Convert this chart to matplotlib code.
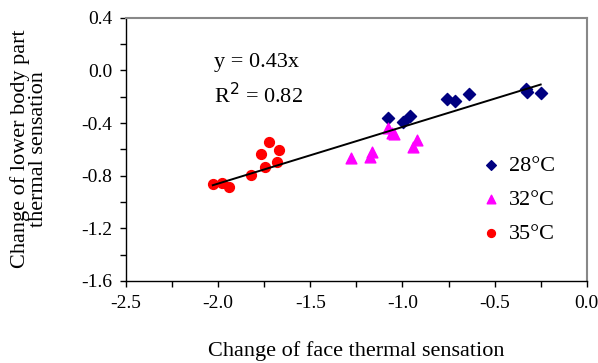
"""Lower body vs face thermal sensation change, with linear fit through origin."""

import matplotlib

matplotlib.use("Agg")
import matplotlib.pyplot as plt
import numpy as np
from matplotlib.ticker import MultipleLocator

plt.rcParams["font.family"] = ["Liberation Serif", "DejaVu Serif"]

# face vs lower body part thermal sensation change, per room temperature
face_28 = [-1.076, -0.998, -0.957, -0.757, -0.717, -0.640, -0.332, -0.326, -0.250]
body_28 = [-0.360, -0.395, -0.347, -0.218, -0.233, -0.180, -0.142, -0.162, -0.170]

face_32 = [-1.078, -1.056, -1.047, -0.920, -0.942, -1.165, -1.174, -1.277]
body_32 = [-0.440, -0.478, -0.486, -0.529, -0.580, -0.618, -0.661, -0.668]

face_35 = [-2.029, -1.977, -1.940, -1.821, -1.748, -1.768, -1.723, -1.672, -1.681]
body_35 = [-0.866, -0.854, -0.884, -0.795, -0.735, -0.636, -0.545, -0.603, -0.697]

slope = 0.43
r_squared = 0.82

x_ticks = [-2.5, -2.0, -1.5, -1.0, -0.5, 0.0]
y_ticks = [0.4, 0.0, -0.4, -0.8, -1.2, -1.6]


fig = plt.figure(figsize=(5.98, 3.63), dpi=100)
ax = fig.add_axes([0.2107, 0.2259, 0.7705, 0.7253])

ax.scatter(face_28, body_28, marker="D", s=38, color="#000080", label="28°C", zorder=3)
ax.scatter(face_32, body_32, marker="^", s=60, color="#ff00ff", label="32°C", zorder=3)
ax.scatter(face_35, body_35, marker="o", s=50, color="#ff0000", label="35°C", zorder=3)

all_x = np.array(face_28 + face_32 + face_35)
fit_x = np.array([all_x.min(), all_x.max()])
ax.plot(fit_x, slope * fit_x, color="black", linewidth=1.4, zorder=4)

ax.text(-2.02, 0.06, f"y = {slope:.2f}x", fontsize=16, ha="left", va="center")
ax.text(-2.02, -0.19, f"R$^2$ = {r_squared:.2f}", fontsize=16, ha="left", va="center")

ax.set_xlim(-2.5, 0.0)
ax.set_ylim(-1.6, 0.4)
ax.set_xticks(x_ticks)
ax.set_yticks(y_ticks)
ax.set_xticklabels([f"{v:.1f}" for v in x_ticks])
ax.set_yticklabels([f"{v:.1f}" for v in y_ticks])
ax.xaxis.set_minor_locator(MultipleLocator(0.25))
ax.yaxis.set_minor_locator(MultipleLocator(0.2))
ax.tick_params(which="both", direction="out", length=4, width=1, labelsize=14, pad=6)

for side in ("left", "bottom"):
    ax.spines[side].set_color("black")
    ax.spines[side].set_linewidth(1)
for side in ("top", "right"):
    ax.spines[side].set_color("#888888")
    ax.spines[side].set_linewidth(1.5)

ax.set_xlabel("Change of face thermal sensation", fontsize=16, labelpad=21)
fig.text(29 / 598, 1 - 149 / 363, "Change of lower body part\nthermal sensation",
         fontsize=16, rotation=90, ha="center", va="center", multialignment="center",
         linespacing=0.95)

ax.legend(loc="upper left", bbox_to_anchor=(0.745, 0.51), frameon=False, fontsize=16,
          handletextpad=0.2, labelspacing=0.6, borderaxespad=0, handlelength=1.2,
          scatterpoints=1, markerscale=0.8)

fig.savefig("out.png", dpi=100)
